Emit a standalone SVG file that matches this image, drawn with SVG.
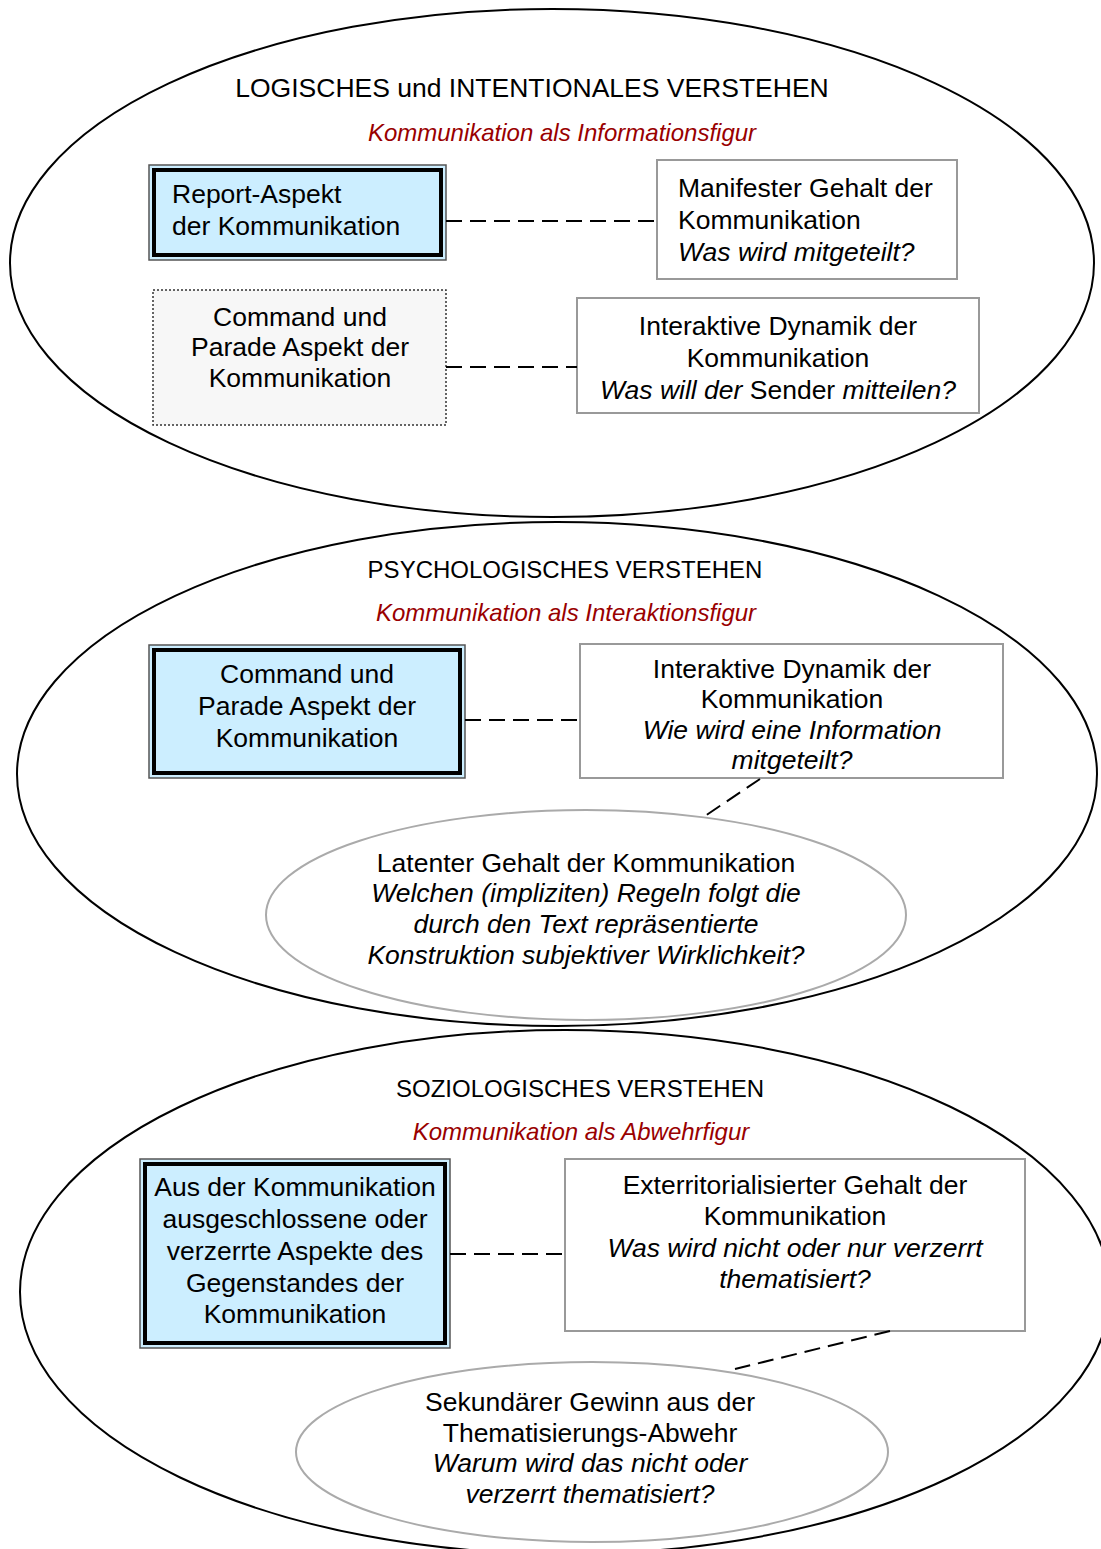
<svg xmlns="http://www.w3.org/2000/svg" width="1101" height="1549" viewBox="0 0 1101 1549">
<style>
text{font-family:"Liberation Sans",Arial,sans-serif;font-size:26.5px;fill:#000}
.t{font-size:24px}
.t1{font-size:26.5px}
.r{font-style:italic;fill:#990000;font-size:24px}
.i{font-style:italic}
.m{text-anchor:middle}
.big{fill:none;stroke:#000;stroke-width:2}
.sub{fill:#fff;stroke:#aaa;stroke-width:2}
.box{fill:#fff;stroke:#999;stroke-width:2}
.bo{fill:#cceeff;stroke:#555;stroke-width:1.5}
.bi{fill:none;stroke:#000;stroke-width:4}
.con line{stroke:#000;stroke-width:2;stroke-dasharray:16 8}
</style>
<g id="section1">
<ellipse class="big" cx="552" cy="263" rx="542" ry="254"/>
<text class="t1 m" x="532" y="97">LOGISCHES und INTENTIONALES VERSTEHEN</text>
<text class="r m" x="562" y="141">Kommunikation als Informationsfigur</text>
</g>
<g id="report">
<rect class="bo" x="149" y="165" width="297" height="95"/>
<rect class="bi" x="154" y="170" width="287" height="85"/>
<text x="172" y="203">Report-Aspekt</text>
<text x="172" y="235">der Kommunikation</text>
</g>
<g id="command1">
<rect x="153" y="290" width="293" height="135" fill="#f7f7f7" stroke="#333" stroke-width="1.5" stroke-dasharray="2 2"/>
<text class="m" x="300" y="326">Command und</text>
<text class="m" x="300" y="356">Parade Aspekt der</text>
<text class="m" x="300" y="387">Kommunikation</text>
</g>
<g id="manifest">
<rect class="box" x="657" y="160" width="300" height="119"/>
<text x="678" y="197">Manifester Gehalt der</text>
<text x="678" y="229">Kommunikation</text>
<text class="i" x="678" y="261">Was wird mitgeteilt?</text>
</g>
<g id="dynamik1">
<rect class="box" x="577" y="298" width="402" height="115"/>
<text class="m" x="778" y="335">Interaktive Dynamik der</text>
<text class="m" x="778" y="367">Kommunikation</text>
<text class="m" x="778" y="399"><tspan class="i">Was will der</tspan> Sender <tspan class="i">mitteilen?</tspan></text>
</g>
<g id="section2">
<ellipse class="big" cx="557" cy="774" rx="540" ry="252"/>
<text class="t m" x="565" y="578">PSYCHOLOGISCHES VERSTEHEN</text>
<text class="r m" x="566" y="621">Kommunikation als Interaktionsfigur</text>
</g>
<g id="command2">
<rect class="bo" x="149" y="645" width="316" height="133"/>
<rect class="bi" x="154" y="650" width="306" height="123"/>
<text class="m" x="307" y="683">Command und</text>
<text class="m" x="307" y="715">Parade Aspekt der</text>
<text class="m" x="307" y="747">Kommunikation</text>
</g>
<g id="dynamik2">
<rect class="box" x="580" y="644" width="423" height="134"/>
<text class="m" x="792" y="678">Interaktive Dynamik der</text>
<text class="m" x="792" y="708">Kommunikation</text>
<text class="m i" x="792" y="739">Wie wird eine Information</text>
<text class="m i" x="792" y="769">mitgeteilt?</text>
</g>
<g id="latent">
<ellipse class="sub" cx="586" cy="915" rx="320" ry="105"/>
<text class="m" x="586" y="872">Latenter Gehalt der Kommunikation</text>
<text class="m i" x="586" y="902">Welchen (impliziten) Regeln folgt die</text>
<text class="m i" x="586" y="933">durch den Text repräsentierte</text>
<text class="m i" x="586" y="964">Konstruktion subjektiver Wirklichkeit?</text>
</g>
<g id="section3">
<ellipse class="big" cx="565" cy="1292" rx="545" ry="262"/>
<text class="t m" x="580" y="1097">SOZIOLOGISCHES VERSTEHEN</text>
<text class="r m" x="581" y="1140">Kommunikation als Abwehrfigur</text>
</g>
<g id="aus">
<rect class="bo" x="140" y="1159" width="310" height="189"/>
<rect class="bi" x="145" y="1164" width="300" height="179"/>
<text class="m" x="295" y="1196">Aus der Kommunikation</text>
<text class="m" x="295" y="1228">ausgeschlossene oder</text>
<text class="m" x="295" y="1260">verzerrte Aspekte des</text>
<text class="m" x="295" y="1292">Gegenstandes der</text>
<text class="m" x="295" y="1323">Kommunikation</text>
</g>
<g id="exterr">
<rect class="box" x="565" y="1159" width="460" height="172"/>
<text class="m" x="795" y="1194">Exterritorialisierter Gehalt der</text>
<text class="m" x="795" y="1225">Kommunikation</text>
<text class="m i" x="795" y="1257">Was wird nicht oder nur verzerrt</text>
<text class="m i" x="795" y="1288">thematisiert?</text>
</g>
<g id="sekundaer">
<ellipse class="sub" cx="592" cy="1452" rx="296" ry="90"/>
<text class="m" x="590" y="1411">Sekundärer Gewinn aus der</text>
<text class="m" x="590" y="1442">Thematisierungs-Abwehr</text>
<text class="m i" x="590" y="1472">Warum wird das nicht oder</text>
<text class="m i" x="590" y="1503">verzerrt thematisiert?</text>
</g>
<g id="connectors" class="con">
<line x1="446" y1="221" x2="657" y2="221"/>
<line x1="446" y1="367" x2="577" y2="367"/>
<line x1="465" y1="720" x2="580" y2="720"/>
<line x1="450" y1="1254" x2="565" y2="1254"/>
<line x1="760" y1="779" x2="702" y2="818"/>
<line x1="890" y1="1331" x2="735" y2="1369"/>
</g>
</svg>
